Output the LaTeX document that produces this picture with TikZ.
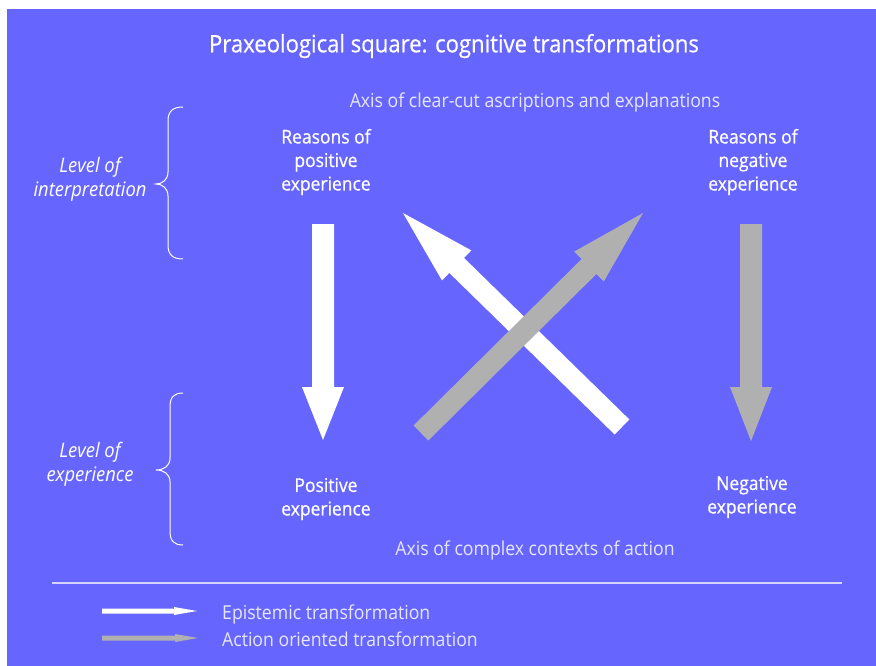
\documentclass[tikz,border=0pt]{standalone}
\usepackage{fontspec}
\setmainfont{Open Sans}[FakeStretch=0.92]
\newfontfamily\heavyfont{Open Sans}[FakeStretch=0.92,FakeBold=0.6]
\usetikzlibrary{calc}
\definecolor{bgblue}{HTML}{6666FF}
\definecolor{agrey}{HTML}{B0B0B0}
\definecolor{soft}{HTML}{E6E6FF}
\definecolor{rulec}{HTML}{D4D4FF}
\newcommand\blockarrow[6]{% color, start, end, half shaft, half head, head length
  \path ($(#3)!#6pt!(#2)$) coordinate (hb);
  \fill[#1] ($(#2)!#4pt!90:(#3)$) -- ($(#2)!#4pt!-90:(#3)$)
    -- ($(hb)!#4pt!-90:(#3)$) -- ($(hb)!#5pt!-90:(#3)$)
    -- (#3)
    -- ($(hb)!#5pt!90:(#3)$) -- ($(hb)!#4pt!90:(#3)$) -- cycle;}
\tikzset{
  titletext/.style={text=white,font=\heavyfont\fontsize{24}{28}\selectfont,inner sep=0pt},
  axistext/.style={text=soft,font=\fontsize{19.2}{22}\selectfont,inner sep=0pt},
  labtext/.style={text=white,font=\heavyfont\fontsize{19}{23.5}\selectfont,align=center,inner sep=0pt},
  lvltext/.style={text=white,font=\itshape\fontsize{20}{24}\selectfont,align=center,inner sep=0pt},
  legtext/.style={text=soft,font=\fontsize{19.2}{24}\selectfont,anchor=west,inner sep=0pt},
  bracec/.style={white,line width=1pt},
}
\begin{document}
\begin{tikzpicture}[x=1pt,y=-1pt]
\useasboundingbox (0,0) rectangle (876,666);
\fill[white] (0,0) rectangle (876,666);
\fill[bgblue] (7,9) rectangle (876,666);

\node[titletext] (title) at (454,46) {Praxeological square: cognitive transformations};
\node[axistext] (axtop) at (535,102.5) {Axis of clear-cut ascriptions and explanations};
\node[axistext] (axbot) at (535,550) {Axis of complex contexts of action};

\node[labtext] (rp) at (326,162) {Reasons of\\positive\\experience};
\node[labtext] (rn) at (753,162) {Reasons of\\negative\\experience};
\node[labtext] (pe) at (326,499) {Positive\\experience};
\node[labtext] (ne) at (752,497) {Negative\\experience};

\node[lvltext] (li) at (90,179) {Level of\\interpretation};
\node[lvltext] (le) at (90,464) {Level of\\experience};

% braces
\draw[bracec] (183,107) .. controls (173,107) and (168,111) .. (168,121) -- (168,172)
  .. controls (168,180) and (162,184) .. (156,184)
  .. controls (162,184) and (168,188) .. (168,196) -- (168,245)
  .. controls (168,255) and (173,259) .. (183,259);
\draw[bracec] (183,393) .. controls (174,393) and (170,397) .. (170,407) -- (170,458)
  .. controls (170,466) and (164,470) .. (156,470)
  .. controls (164,470) and (170,474) .. (170,482) -- (170,531)
  .. controls (170,541) and (174,545) .. (183,545);

% arrows
\coordinate (wdS) at (323,224);
\coordinate (wdE) at (323,440);
\coordinate (gdS) at (751,224);
\coordinate (gdE) at (751,441);
\coordinate (wxS) at (622,427);
\coordinate (wxE) at (403,213);
\coordinate (gxS) at (421,433);
\coordinate (gxE) at (643,213);
\blockarrow{white}{wdS}{wdE}{11}{21}{53}
\blockarrow{agrey}{gdS}{gdE}{11}{21}{54}
\blockarrow{white}{wxS}{wxE}{10.5}{21}{75}
\blockarrow{agrey}{gxS}{gxE}{10.5}{21}{76}

% legend
\draw[rulec,line width=1.5pt] (52,583) -- (842,583);
\coordinate (l1S) at (102,611);
\coordinate (l1E) at (197,611);
\coordinate (l2S) at (102,638);
\coordinate (l2E) at (198,638);
\blockarrow{white}{l1S}{l1E}{2.5}{4}{23}
\blockarrow{agrey}{l2S}{l2E}{2.5}{4}{23}
\node[legtext] (lg1) at (222,614) {Epistemic transformation};
\node[legtext] (lg2) at (222,639) {Action oriented transformation};
\end{tikzpicture}
\end{document}
